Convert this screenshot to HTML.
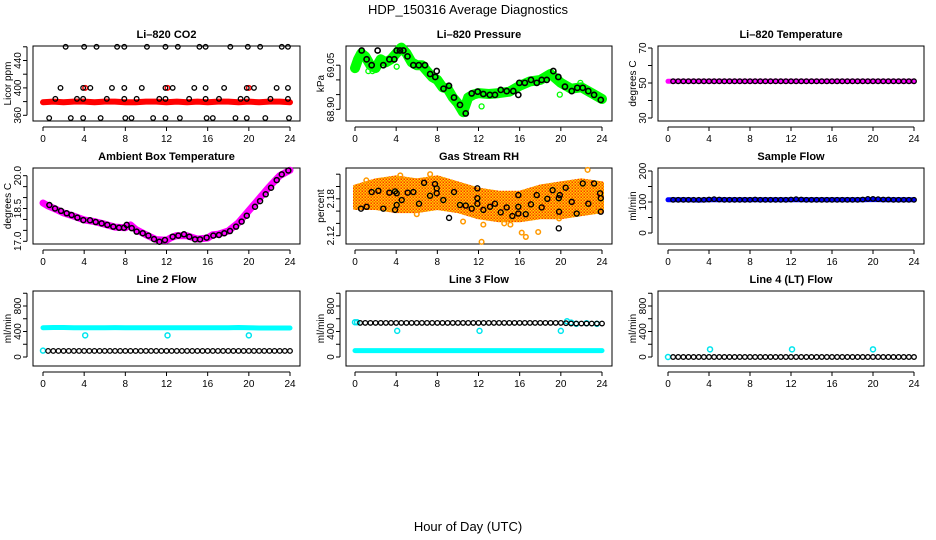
<!DOCTYPE html>
<html><head><meta charset="utf-8"><style>
html,body{margin:0;padding:0;background:#fff;}
svg{display:block;font-family:"Liberation Sans",Arial,sans-serif;}
</style></head><body>
<svg id="c" width="936" height="540" viewBox="0 0 936 540" xmlns="http://www.w3.org/2000/svg">
<defs>
<pattern id="rhpat" width="3" height="3" patternUnits="userSpaceOnUse">
<rect width="3" height="3" fill="#ffd000"/>
<rect width="1.5" height="1.5" fill="#ff6600"/>
<rect x="1.5" y="1.5" width="1.5" height="1.5" fill="#ff3300"/>
</pattern>
</defs>
<text x="468" y="14" text-anchor="middle" font-size="13">HDP_150316  Average Diagnostics</text>
<text x="468" y="531" text-anchor="middle" font-size="13">Hour of Day (UTC)</text>
</svg>
<script>
// ---- data ----
const hourTicks = [0,4,8,12,16,20,24];
const halfHours = [0.5,1,1.5,2,2.5,3,3.5,4,4.5,5,5.5,6,6.5,7,7.5,8,8.5,9,9.5,10,10.5,11,11.5,12,12.5,13,13.5,14,14.5,15,15.5,16,16.5,17,17.5,18,18.5,19,19.5,20,20.5,21,21.5,22,22.5,23,23.5,24];
const bandHours = [0,1,2,3,4,5,6,7,8,9,10,11,12,13,14,15,16,17,18,19,20,21,22,23,24];

// CO2
const co2RedV = [379,380,379,380,380,379,380,380,379,379,380,380,379,380,379,380,379,380,380,379,380,379,380,380,379];
const co2RedExtraH = [4.1,12.1,20.0];
const co2RedExtraV = [400,400,400];
const co2BlkH = [2.2,4.0,5.2,7.2,7.9,10.1,11.9,13.1,15.2,15.8,18.2,19.9,21.1,23.2,23.8,
 1.7,3.9,4.6,6.7,7.9,9.6,11.9,12.6,14.7,15.8,17.6,19.8,20.5,22.7,23.8,
 1.2,3.3,3.9,6.2,7.9,9.1,11.3,11.9,14.2,15.8,17.1,19.2,19.8,22.1,23.8,
 0.6,2.7,3.9,5.6,8.0,8.6,10.7,11.9,13.3,15.9,16.5,18.7,19.8,21.6,23.9];
const co2BlkV = [460,460,460,460,460,460,460,460,460,460,460,460,460,460,460,
 400,400,400,400,400,400,400,400,400,400,400,400,400,400,400,
 384,384,384,384,384,384,384,384,384,384,384,384,384,384,384,
 356,356,356,356,356,356,356,356,356,356,356,356,356,356,356];

// Pressure
const presGreenH = [0,0.3,0.6,1,1.5,2,2.5,3,3.5,4,4.5,5,5.5,6,6.5,7,7.5,8,8.5,9,9.5,10,10.5,11,11.5,12,13,14,15,16,17,18,19,20,21,22,23,24];
const presGreenV = [69.04,69.07,69.09,69.08,69.05,69.04,69.07,69.06,69.07,69.09,69.11,69.09,69.06,69.05,69.05,69.03,69.01,69.0,68.975,68.97,68.94,68.92,68.89,68.94,68.95,68.955,68.952,68.955,68.96,68.98,68.995,69.0,69.02,68.99,68.97,68.975,68.955,68.935];
const presOutH = [0.16,1.3,1.7,4.05,12.3,19.9,21.9];
const presOutV = [69.04,69.03,69.03,69.045,68.91,68.95,68.99];
const presBlkH = [0.65,1.13,1.62,2.2,2.75,3.34,3.82,4.05,4.37,4.7,5.1,5.67,6.2,6.8,7.3,7.8,7.94,8.6,9.13,9.62,10.2,10.76,11.34,11.92,12.47,13.1,13.6,14.16,14.74,15.38,15.87,15.97,16.5,17.1,17.66,18.14,18.63,19.27,19.76,20.4,21.06,21.6,22.13,22.67,23.23,23.88];
const presBlkV = [69.10,69.07,69.05,69.10,69.05,69.07,69.07,69.10,69.10,69.10,69.08,69.05,69.05,69.05,69.02,69.01,69.03,68.97,68.98,68.94,68.915,68.886,68.954,68.96,68.952,68.949,68.949,68.966,68.962,68.962,68.949,68.99,68.99,69.0,68.99,69.0,69.0,69.03,69.01,68.977,68.962,68.973,68.973,68.962,68.949,68.932];

// Li-820 temperature
const tempMagV = [51,51,51,51,51,51,51,51,51,51,51,51,51,51,51,51,51,51,51,51,51,51,51,51,51];
const tempBlkV = [51,51,51,51,51,51,51,51,51,51,51,51,51,51,51,51,51,51,51,51,51,51,51,51,51,51,51,51,51,51,51,51,51,51,51,51,51,51,51,51,51,51,51,51,51,51,51,51];

// Ambient box temperature
const ambMagH = [0,0.5,1,2,3,4,5,6,7,8,8.5,9,10,11,12,12.5,13,14,15,16,16.5,17,18,19,20,21,22,23,24];
const ambMagV = [18.75,18.62,18.52,18.3,18.15,17.98,17.9,17.78,17.65,17.62,17.75,17.55,17.3,17.08,17.05,17.18,17.26,17.25,17.1,17.15,17.3,17.32,17.47,17.85,18.4,18.95,19.5,20.0,20.25];
const ambBlkH = [0.62,1.17,1.75,2.3,2.78,3.34,3.92,4.57,5.12,5.7,6.25,6.83,7.39,7.87,8.13,8.62,9.1,9.69,10.24,10.79,11.31,11.85,12.6,13.15,13.7,14.22,14.77,15.26,15.9,16.55,17.1,17.62,18.17,18.76,19.3,19.8,20.6,21.09,21.64,22.16,22.71,23.2,23.84];
const ambBlkV = [18.66,18.5,18.39,18.28,18.2,18.08,17.97,17.96,17.88,17.82,17.75,17.67,17.62,17.62,17.75,17.6,17.44,17.37,17.26,17.1,16.98,17.06,17.21,17.26,17.32,17.21,17.09,17.09,17.17,17.26,17.29,17.37,17.47,17.67,17.9,18.17,18.58,18.84,19.15,19.45,19.8,20.06,20.24];

// Gas stream RH
const rhBandH = [0,2,4,6,8,10,12,14,16,18,20,22,24];
const rhUpper = [2.20,2.21,2.215,2.21,2.215,2.205,2.195,2.19,2.19,2.20,2.205,2.21,2.205];
const rhLower = [2.165,2.165,2.16,2.16,2.165,2.16,2.15,2.145,2.145,2.15,2.15,2.155,2.16];
const rhOutH = [10.5,12.3,12.47,14.5,15.1,16.2,16.6,17.8,19.83,22.6,23.4,6.0,3.6,1.1,4.4,7.3];
const rhOutV = [2.143,2.11,2.138,2.14,2.138,2.125,2.118,2.126,2.148,2.227,2.162,2.155,2.164,2.21,2.218,2.22];
const rhBlkH = [0.58,1.13,1.62,2.27,2.75,3.34,3.89,4.05,3.89,4.05,4.54,5.12,5.67,6.22,6.71,7.29,7.77,7.94,7.94,8.58,9.14,9.62,10.2,10.76,11.34,11.89,11.89,11.89,12.47,13.12,13.6,14.16,14.74,15.29,15.87,15.87,15.87,16.59,17.1,17.66,18.14,18.69,19.2,19.8,19.83,19.8,19.9,20.47,21.06,21.54,22.13,22.67,23.23,23.81,23.88,23.88];
const rhBlkV = [2.164,2.167,2.191,2.193,2.164,2.19,2.192,2.189,2.162,2.17,2.178,2.19,2.191,2.172,2.206,2.185,2.204,2.197,2.189,2.178,2.149,2.191,2.17,2.169,2.164,2.197,2.181,2.172,2.162,2.167,2.172,2.158,2.166,2.152,2.186,2.167,2.156,2.155,2.171,2.186,2.166,2.18,2.194,2.181,2.159,2.132,2.186,2.198,2.175,2.156,2.205,2.172,2.205,2.189,2.181,2.159];

// Sample flow
const sfBlueV = [107,107,107,106,107,107,107,107,107,107,107,107,107,107,107,107,107,107,107,107,108,107,107,107,107];
const sfBlkV = [107,107,107,107,107,107,107,108,109,108,107,107,107,107,107,107,108,107,107,107,107,107,107,108,109,108,107,107,107,107,107,107,107,107,107,107,107,108,110,110,109,108,108,107,107,107,107,107];

// Line 2 flow
const l2CyanV = [460,462,462,460,460,460,460,461,460,460,460,460,460,460,460,460,460,460,460,462,458,455,455,455,455];
const l2BlkV = [95,95,95,95,95,95,95,95,95,95,95,95,95,95,95,95,95,95,95,95,95,95,95,95,95,95,95,95,95,95,95,95,95,95,95,95,95,95,95,95,95,95,95,95,95,95,95,95];
const l2OutH = [0,4.1,12.1,20.0];
const l2OutV = [100,340,340,340];

// Line 3 flow
const l3CyanV = [100,100,100,100,100,100,100,100,100,100,100,100,100,100,100,100,100,100,100,100,100,100,100,100,100];
const l3BlkV = [535,535,535,535,535,535,535,535,535,535,535,535,535,535,535,535,535,535,535,535,535,535,535,535,535,535,535,535,535,535,535,535,535,535,535,535,535,535,535,535,530,525,525,525,525,525,525,525];
const l3OutH = [0,0.2,4.1,12.1,20.0,20.6,21.0,21.5,22.5,23.5];
const l3OutV = [545,545,410,410,410,560,540,520,530,520];

// Line 4 flow
const l4BlkV = [0,0,0,0,0,0,0,0,0,0,0,0,0,0,0,0,0,0,0,0,0,0,0,0,0,0,0,0,0,0,0,0,0,0,0,0,0,0,0,0,0,0,0,0,0,0,0,0];
const l4OutH = [0,4.1,12.1,20.0];
const l4OutV = [0,120,120,120];

// ---- drawing ----
const svg = document.getElementById('c');
const NS = 'http://www.w3.org/2000/svg';
function mk(tag, attrs, parent){
  const e = document.createElementNS(NS, tag);
  for (const k in attrs) e.setAttribute(k, attrs[k]);
  (parent||svg).appendChild(e);
  return e;
}
const cols = [{l:33,w:267,x0:43,x24:290},{l:346,w:266,x0:355,x24:602},{l:658,w:266,x0:668,x24:914}];
const rows = [{t:46,b:121},{t:168,b:244},{t:291,b:366}];

function makePanel(id, title, c, r, ylab, v1, p1, v2, p2, ticks, labels, fmt){
  const C = cols[c], R = rows[r];
  const g = mk('g', {});
  
  
  const xs = h => C.x0 + h*(C.x24-C.x0)/24;
  const ys = v => p1 + (v-v1)*(p2-p1)/(v2-v1);
  const box = mk('rect', {x:C.l, y:R.t, width:C.w, height:R.b-R.t, fill:'none', stroke:'#000', 'stroke-width':1}, g);
  
  
  const t = mk('text', {x:C.l+C.w/2, y:R.t-8, 'text-anchor':'middle', 'font-size':11, 'font-weight':'bold'}, g);
  t.textContent = title;
  
  
  const xa = mk('g', {}, g);
  
  
  const ay = R.b + 6;
  mk('line', {x1:xs(hourTicks[0]), x2:xs(hourTicks[hourTicks.length-1]), y1:ay, y2:ay, stroke:'#000'}, xa);
  hourTicks.forEach(h => {
    mk('line', {x1:xs(h), x2:xs(h), y1:ay, y2:ay+4, stroke:'#000'}, xa);
    const tl = mk('text', {x:xs(h), y:ay+15, 'text-anchor':'middle', 'font-size':10}, xa);
    tl.textContent = h;
    
    
  });
  const ya = mk('g', {}, g);
  
  
  const ax = C.l - 6;
  mk('line', {x1:ax, x2:ax, y1:ys(ticks[0]), y2:ys(ticks[ticks.length-1]), stroke:'#000'}, ya);
  ticks.forEach(v => mk('line', {x1:ax-4, x2:ax, y1:ys(v), y2:ys(v), stroke:'#000'}, ya));
  labels.forEach(v => {
    const y = ys(v);
    const lx = ax - 6;
    const tl = mk('text', {x:lx, y:y, 'text-anchor':'middle', 'font-size':10, transform:'rotate(-90 '+lx+' '+y+')'}, ya);
    tl.textContent = fmt ? v.toFixed(fmt) : v;
    
    
  });
  const yx = C.l - 22;
  const yl = mk('text', {x:yx, y:(R.t+R.b)/2, 'text-anchor':'middle', 'font-size':10, transform:'rotate(-90 '+yx+' '+((R.t+R.b)/2)+')'}, g);
  yl.textContent = ylab;
  
  
  const marks = mk('g', {}, g);
  
  
  return {xs, ys, g:marks, id};
}
function band(P, H, V, color, w, name){
  const pts = H.map((h,i) => P.xs(h).toFixed(1)+','+P.ys(V[i]).toFixed(1)).join(' ');
  const e = mk('polyline', {points:pts, fill:'none', stroke:color, 'stroke-width':w, 'stroke-linejoin':'round', 'stroke-linecap':'round'}, P.g);
  
  
}
function pts(P, H, V, color, r, sw, name){
  H.forEach((h,i) => {
    const e = mk('circle', {cx:P.xs(h), cy:P.ys(V[i]), r:r, fill:'none', stroke:color, 'stroke-width':sw}, P.g);
    
    
  });
}
function area(P, H, U, L, color, name){
  const up = H.map((h,i) => P.xs(h).toFixed(1)+','+P.ys(U[i]).toFixed(1));
  const lo = H.map((h,i) => P.xs(h).toFixed(1)+','+P.ys(L[i]).toFixed(1)).reverse();
  const e = mk('polygon', {points:up.concat(lo).join(' '), fill:color, stroke:color, 'stroke-width':4, 'stroke-linejoin':'round'}, P.g);
  
  
}

let P = makePanel('co2','Li–820 CO2',0,0,'Licor ppm',360,115.3,460,46.8,[360,380,400,420,440,460],[360,400,440]);
band(P, bandHours, co2RedV, '#ff0000', 6, 'red-band');
pts(P, co2RedExtraH, co2RedExtraV, '#ff0000', 2.3, 1.5, 'red-point');
pts(P, co2BlkH, co2BlkV, '#000', 2.3, 1.3, 'black-point');

P = makePanel('pressure','Li–820 Pressure',1,0,'kPa',68.90,109.3,69.05,65.2,[68.90,68.95,69.00,69.05],[68.90,69.05],2);
band(P, presGreenH, presGreenV, '#00ff00', 10, 'green-band');
pts(P, presOutH, presOutV, '#00ff00', 2.5, 1.3, 'green-point');
pts(P, presBlkH, presBlkV, '#000', 2.6, 1.6, 'black-point');

P = makePanel('li820-temp','Li–820 Temperature',2,0,'degrees C',50,83,70,48,[30,40,50,60,70],[30,50,70]);
band(P, bandHours, tempMagV, '#ff00ff', 5, 'magenta-band');
pts(P, halfHours, tempBlkV, '#000', 2.3, 1.3, 'black-point');

P = makePanel('ambient-temp','Ambient Box Temperature',0,1,'degrees C',17,241.3,20,175.7,[17,17.5,18,18.5,19,19.5,20],[17,18.5,20],1);
band(P, ambMagH, ambMagV, '#ff00ff', 7, 'magenta-band');
pts(P, ambBlkH, ambBlkV, '#000', 2.5, 1.5, 'black-point');

P = makePanel('rh','Gas Stream RH',1,1,'percent',2.12,235.7,2.18,198.8,[2.12,2.14,2.16,2.18,2.20,2.22],[2.12,2.18],2);
area(P, rhBandH, rhUpper, rhLower, 'url(#rhpat)', 'orange-cloud');
pts(P, rhOutH, rhOutV, '#ff9900', 2.3, 1.5, 'orange-point');
pts(P, rhBlkH, rhBlkV, '#000', 2.5, 1.4, 'black-point');

P = makePanel('sample-flow','Sample Flow',2,1,'ml/min',0,233,200,171,[0,50,100,150,200],[0,100,200]);
band(P, bandHours, sfBlueV, '#0000ff', 5, 'blue-band');
pts(P, halfHours, sfBlkV, '#000', 2.3, 1.3, 'black-point');

P = makePanel('line2-flow','Line 2 Flow',0,2,'ml/min',0,357,800,306,[0,200,400,600,800,1000],[0,400,800]);
band(P, bandHours, l2CyanV, '#00ffff', 5, 'cyan-band');
pts(P, l2OutH, l2OutV, '#00e5ee', 2.5, 1.5, 'cyan-point');
pts(P, halfHours, l2BlkV, '#000', 2.3, 1.3, 'black-point');

P = makePanel('line3-flow','Line 3 Flow',1,2,'ml/min',0,357,800,306,[0,200,400,600,800,1000],[0,400,800]);
band(P, bandHours, l3CyanV, '#00ffff', 5, 'cyan-band');
pts(P, l3OutH, l3OutV, '#00e5ee', 2.5, 1.5, 'cyan-point');
pts(P, halfHours, l3BlkV, '#000', 2.3, 1.3, 'black-point');

P = makePanel('line4-flow','Line 4 (LT) Flow',2,2,'ml/min',0,357,800,306,[0,200,400,600,800,1000],[0,400,800]);
pts(P, l4OutH, l4OutV, '#00e5ee', 2.5, 1.5, 'cyan-point');
pts(P, halfHours, l4BlkV, '#000', 2.3, 1.3, 'black-point');
</script>
</body></html>
